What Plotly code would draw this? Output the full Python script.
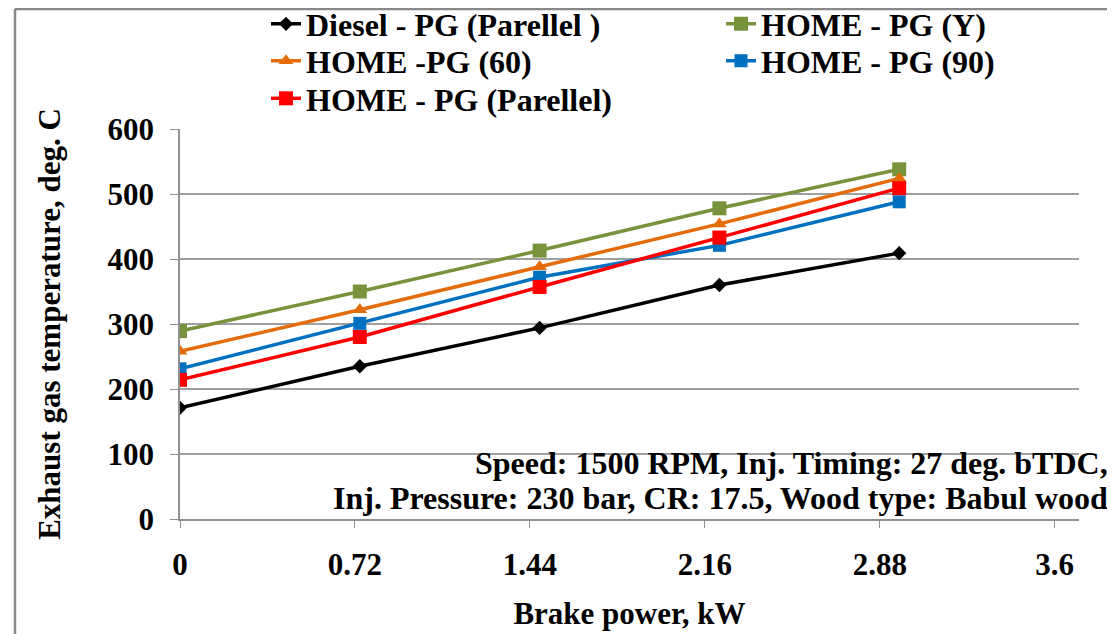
import plotly.graph_objects as go

brake_power = [0, 0.74, 1.48, 2.22, 2.96]
diesel_pg_parallel = [171, 235, 294, 360, 409]
home_pg_y = [289, 350, 413, 478, 538]
home_pg_60 = [258, 322, 388, 454, 524]
home_pg_90 = [231, 301, 372, 421, 488]
home_pg_parallel = [214, 280, 357, 433, 509]

x_ticks = [0, 0.72, 1.44, 2.16, 2.88, 3.6]
x_tick_text = ["0", "0.72", "1.44", "2.16", "2.88", "3.6"]
y_ticks = [0, 100, 200, 300, 400, 500, 600]

FONT = "Liberation Serif"
FS = 31
FS_BIG = 32

# the page body adds an 8px offset; work in screen pixels and convert
OFF = 8
W, H = 1115 - OFF, 634 - OFF
L, T = 180 - OFF, 129 - OFF
R = W - (1079 - OFF)
B = H - (519 - OFF)
pw, ph = W - L - R, H - T - B


def px(xs):
    return (xs - OFF - L) / pw


def py(ys):
    return (H - B - (ys - OFF)) / ph


fig = go.Figure()

# name, values, colour, symbol, size, legend id, legend text-left px, legend row centre px
series = [
    ("Diesel - PG (Parellel )", diesel_pg_parallel, "#000000", "diamond", 11, "legend2", 307, 26),
    ("HOME - PG (Y)", home_pg_y, "#77933C", "square", 14, "legend3", 762, 26),
    ("HOME -PG (60)", home_pg_60, "#E46C0A", "triangle-up", 13, "legend4", 307, 63),
    ("HOME - PG (90)", home_pg_90, "#0070C0", "square", 13, "legend5", 762, 63),
    ("HOME - PG (Parellel)", home_pg_parallel, "#FF0000", "square", 14, "legend6", 307, 100.5),
]
legends = {}
for name, ys, col, sym, sz, lg, tx, ty in series:
    fig.add_trace(go.Scatter(
        x=brake_power, y=ys, name=name, mode="lines+markers",
        line=dict(color=col, width=3.5),
        marker=dict(symbol=sym, size=sz, color=col),
        legend=lg, showlegend=True,
    ))
    legends[lg] = dict(
        x=px(tx - 41), y=py(ty - 2), xanchor="left", yanchor="middle",
        orientation="v", bgcolor="rgba(0,0,0,0)",
        font=dict(family=FONT, size=FS_BIG, color="black", weight="bold"),
    )

fig.update_layout(
    width=W, height=H,
    margin=dict(l=L, r=R, t=T, b=B, autoexpand=False),
    paper_bgcolor="white", plot_bgcolor="white",
    font=dict(family=FONT, color="black", size=FS),
    xaxis=dict(
        range=[0, 3.7], tickvals=x_ticks, ticktext=x_tick_text,
        showgrid=False, zeroline=False,
        showline=True, linecolor="#909090", linewidth=1.5,
        ticks="outside", ticklen=7, tickcolor="#909090",
        ticklabelstandoff=10,
        tickfont=dict(family=FONT, size=FS, color="black", weight="bold"),
        title=dict(text="Brake power, kW", standoff=21,
                   font=dict(family=FONT, size=FS, color="black", weight="bold")),
    ),
    yaxis=dict(
        range=[0, 600], tickvals=y_ticks,
        showgrid=True, gridcolor="#A0A0A0", gridwidth=1.5,
        zeroline=False,
        showline=True, linecolor="#909090", linewidth=1.5,
        ticks="outside", ticklen=8, tickcolor="#909090",
        ticklabelstandoff=10,
        tickfont=dict(family=FONT, size=FS, color="black", weight="bold"),
        title=dict(text="Exhaust gas temperature, deg. C", standoff=38,
                   font=dict(family=FONT, size=FS, color="black", weight="bold")),
    ),
    shapes=[
        dict(type="line", xref="paper", yref="paper",
             x0=px(15), x1=px(1125), y0=py(9), y1=py(9),
             line=dict(color="#888888", width=2.5)),
        dict(type="line", xref="paper", yref="paper",
             x0=px(15), x1=px(15), y0=py(9), y1=py(645),
             line=dict(color="#888888", width=2.5)),
    ],
    annotations=[
        dict(text="Speed: 1500 RPM, Inj. Timing: 27 deg. bTDC,", xref="paper", yref="paper",
             x=px(1110), y=py(463), xanchor="right", yanchor="middle", showarrow=False,
             font=dict(family=FONT, size=FS_BIG, color="black", weight="bold")),
        dict(text="Inj. Pressure: 230 bar, CR: 17.5, Wood type: Babul wood", xref="paper", yref="paper",
             x=px(1110), y=py(498), xanchor="right", yanchor="middle", showarrow=False,
             font=dict(family=FONT, size=FS_BIG, color="black", weight="bold")),
    ],
    **legends,
)

fig.write_html("out.html")
